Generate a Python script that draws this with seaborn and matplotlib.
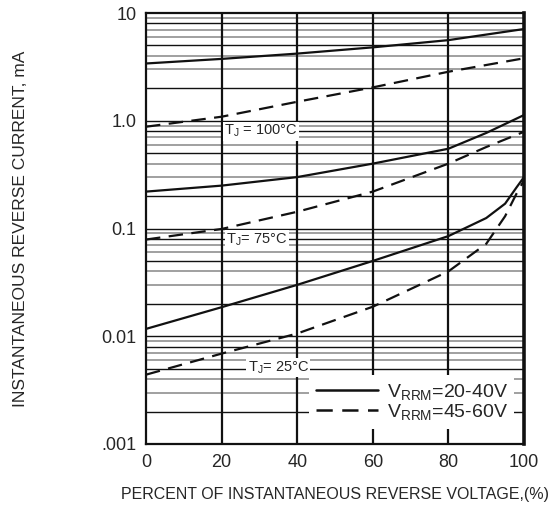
import numpy as np
import pandas as pd
import matplotlib
matplotlib.use("Agg")
import matplotlib.pyplot as plt
from matplotlib.lines import Line2D
import seaborn as sns

# ---- data ----
pct_a = [0, 20, 40, 60, 80, 100]
tj100_low_v = [3.4, 3.75, 4.2, 4.8, 5.6, 7.1]        # VRRM=20-40V, TJ=100C
tj100_high_v = [0.88, 1.09, 1.5, 2.04, 2.85, 3.8]     # VRRM=45-60V, TJ=100C
pct_b = [0, 20, 40, 60, 80, 90, 100]
tj75_low_v = [0.22, 0.25, 0.30, 0.40, 0.55, 0.77, 1.13]
tj75_high_v = [0.079, 0.099, 0.143, 0.22, 0.40, 0.57, 0.79]
pct_c = [0, 20, 40, 60, 80, 90, 95, 98, 100]
tj25_low_v = [0.0117, 0.0186, 0.030, 0.050, 0.085, 0.125, 0.17, 0.24, 0.30]
tj25_high_v = [0.0044, 0.0069, 0.0106, 0.0188, 0.040, 0.072, 0.13, 0.21, 0.28]

x_ticks = [0, 20, 40, 60, 80, 100]
y_ticks = [0.001, 0.01, 0.1, 1.0, 10]
y_ticklabels = [".001", "0.01", "0.1", "1.0", "10"]
series_labels = ["V$\\mathregular{_{RRM}}$=20-40V", "V$\\mathregular{_{RRM}}$=45-60V"]
tj_labels = ["T$\\mathregular{_J}$ = 100\u00b0C", "T$\\mathregular{_J}$= 75\u00b0C", "T$\\mathregular{_J}$= 25\u00b0C"]
tj_label_pos = [(30.4, 0.80), (29.4, 0.078), (35.0, 0.0051)]

rows = []
for tj, xs, lo, hi in [("100", pct_a, tj100_low_v, tj100_high_v),
                       ("75", pct_b, tj75_low_v, tj75_high_v),
                       ("25", pct_c, tj25_low_v, tj25_high_v)]:
    for x, v in zip(xs, lo):
        rows.append({"pct": x, "ir": v, "tj": tj, "vrrm": "low"})
    for x, v in zip(xs, hi):
        rows.append({"pct": x, "ir": v, "tj": tj, "vrrm": "high"})
df = pd.DataFrame(rows)

sns.set_style("white")
plt.rcParams["font.family"] = ["Liberation Sans", "DejaVu Sans"]

fig = plt.figure(figsize=(5.57, 5.12), dpi=100)
ax = fig.add_axes([146 / 557, 1 - 444 / 512, 378 / 557, 431 / 512])
ax.set_yscale("log")
ax.set_xlim(0, 100)
ax.set_ylim(0.001, 10)

# grid lines
black_minor = {1, 2, 5, 8}
for dec in [0.001, 0.01, 0.1, 1.0]:
    for m in range(1, 10):
        v = dec * m
        if m in black_minor:
            ax.axhline(v, color="#111111", lw=1.0, zorder=1)
        else:
            ax.axhline(v, color="#999999", lw=1.3, zorder=1)
for xv in [20, 40, 60, 80]:
    ax.axvline(xv, color="#111111", lw=1.6, zorder=1)

# curves
dash = (6.5, 3.8)
for tj in ["100", "75", "25"]:
    sub = df[(df.tj == tj) & (df.vrrm == "low")]
    sns.lineplot(data=sub, x="pct", y="ir", ax=ax, color="#111111", lw=1.6,
                 legend=False, zorder=5, sort=True)
    sub = df[(df.tj == tj) & (df.vrrm == "high")]
    sns.lineplot(data=sub, x="pct", y="ir", ax=ax, color="#111111", lw=1.6,
                 legend=False, zorder=5, sort=True)
    ax.lines[-1].set_dashes(dash)

for lab, (xp, yp) in zip(tj_labels, tj_label_pos):
    ax.text(xp, yp, lab, ha="center", va="center", fontsize=10.5,
            bbox=dict(facecolor="white", edgecolor="none", pad=1.0), zorder=3)

handles = [Line2D([0], [0], color="#111111", lw=1.8),
           Line2D([0], [0], color="#111111", lw=1.8, dashes=dash)]
leg = ax.legend(handles, series_labels, loc="lower right",
                bbox_to_anchor=(1.0, 0.012), fontsize=14, frameon=True,
                fancybox=False, handlelength=3.2, handletextpad=0.45,
                labelspacing=0.0, borderpad=0.35, framealpha=1)
leg.get_frame().set_edgecolor("none")
leg.get_frame().set_facecolor("white")
leg.set_zorder(6)

for s in ["left", "bottom", "top"]:
    ax.spines[s].set_color("#111111")
    ax.spines[s].set_linewidth(1.6)
ax.spines["right"].set_color("#111111")
ax.spines["right"].set_linewidth(2.6)
for s in ax.spines.values():
    s.set_zorder(7)

ax.set_xticks(x_ticks)
ax.set_xticklabels([str(t) for t in x_ticks], fontsize=13)
ax.set_yticks(y_ticks)
ax.set_yticklabels(y_ticklabels, fontsize=13)
ax.yaxis.set_minor_locator(matplotlib.ticker.NullLocator())
ax.tick_params(axis="both", length=0, pad=7)

ax.set_xlabel("PERCENT OF INSTANTANEOUS REVERSE VOLTAGE,(%)", fontsize=11.5,
              labelpad=12)
ax.set_ylabel("INSTANTANEOUS REVERSE CURRENT, mA", fontsize=12.5, labelpad=0)
ax.yaxis.set_label_coords(-(146 - 28) / 378, 0.5)

fig.savefig("out.png", dpi=100)
